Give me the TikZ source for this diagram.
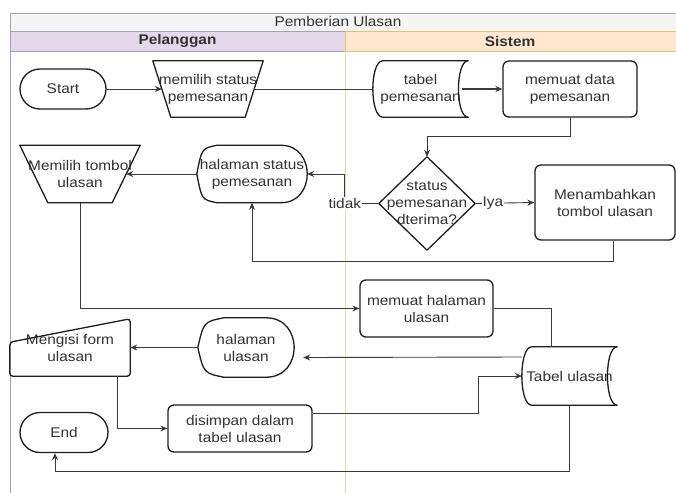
\documentclass[tikz,border=0pt]{standalone}
\usepackage{fontspec}
\setmainfont{Liberation Sans}[FakeStretch=1.1]
\usetikzlibrary{arrows.meta,shapes.misc}
\definecolor{ink}{HTML}{1E1E1E}
\definecolor{txtc}{HTML}{333333}
\definecolor{wire}{HTML}{3A3A3A}
\definecolor{titlefill}{HTML}{F5F5F5}
\definecolor{titleline}{HTML}{A8A8A8}
\definecolor{pelfill}{HTML}{E4D9EA}
\definecolor{pelline}{HTML}{AE9CBE}
\definecolor{sisfill}{HTML}{FFE8D2}
\definecolor{sisline}{HTML}{DCC276}
\begin{document}
\begin{tikzpicture}[x=1pt,y=-1pt,
  every node/.style={inner sep=0pt, align=center, text=txtc, font=\fontsize{14}{17}\selectfont},
  outline/.style={draw=ink, line width=1.3pt, line join=round},
  proc/.style={outline, rounded corners=6pt},
  term/.style={outline, rounded rectangle},
  conn/.style={draw=wire, line width=0.9pt},
  arr/.style={conn, -{Stealth[length=7pt,width=6pt]}},
  lbl/.style={fill=white, inner sep=1pt},
  sz/.style 2 args={minimum width=#1pt, minimum height=#2pt},
  head/.style={font=\fontsize{14}{17}\selectfont\bfseries}
]
\useasboundingbox (0,0) rectangle (676,492);
\clip (0,0) rectangle (676,492);
\fill[white] (0,0) rectangle (676,492);

% pool and lanes
\draw[draw=titleline, fill=titlefill] (10,13) rectangle (700,31);
\draw[draw=pelline, fill=pelfill] (10,31) rectangle (345,51);
\draw[draw=sisline, fill=sisfill] (345,31) rectangle (700,51);
\draw[pelline, line width=1pt] (10,51) -- (10,500);
\draw[sisline!60, line width=1pt] (345,51) -- (345,500);
\node (title) at (338,21.5) {Pemberian Ulasan};
\node[head] (pel) at (177.5,41) {Pelanggan};
\node[head] (sis) at (510,41) {Sistem};

% steps
\node[term, sz={86}{40}] (start) at (63,89) {Start};
\node[sz={110}{56}] (mem) at (208,89) {memilih status\\pemesanan};
\node[sz={95}{56}] (tp) at (420.5,89) {tabel\\pemesanan};
\node[proc, sz={134}{56}] (md) at (570,89) {memuat data\\pemesanan};
\node[sz={96}{93}] (dia) at (427,203.5) {status\\pemesanan\\dterima?};
\node[proc, sz={140}{75}] (menamb) at (605,202.5) {Menambahkan\\tombol ulasan};
\node[sz={110}{57}] (hsp) at (252,174) {halaman status\\pemesanan};
\node[sz={120}{57}] (mt) at (80,174) {Memilih tombol\\ulasan};
\node[proc, sz={133}{57}] (mhu) at (426.5,308.5) {memuat halaman\\ulasan};
\node[sz={95}{58}] (tu) at (569.5,376) {Tabel ulasan};
\node[sz={96}{59}] (hu) at (246,347.5) {halaman\\ulasan};
\node[sz={120}{57}] (mi) at (70,347.5) {Mengisi form\\ulasan};
\node[proc, sz={144}{47}] (ds) at (240,428.5) {disimpan dalam\\tabel ulasan};
\node[term, sz={88}{40}] (end) at (64,432.5) {End};

% manual operations
\draw[outline] (mem.north west) -- (mem.north east) -- ([xshift=-18pt]mem.south east) -- ([xshift=18pt]mem.south west) -- cycle;
\draw[outline] (mt.north west) -- (mt.north east) -- ([xshift=-28pt]mt.south east) -- ([xshift=28pt]mt.south west) -- cycle;

% stored data
\draw[outline] ([xshift=10pt]tp.north west) -- (tp.north east)
  .. controls ([xshift=-13pt]tp.north east) and ([xshift=-13pt]tp.south east) .. (tp.south east)
  -- ([xshift=10pt]tp.south west)
  .. controls ([xshift=-3.3pt]tp.south west) and ([xshift=-3.3pt]tp.north west) .. ([xshift=10pt]tp.north west) -- cycle;
\draw[outline] ([xshift=10pt]tu.north west) -- (tu.north east)
  .. controls ([xshift=-13pt]tu.north east) and ([xshift=-13pt]tu.south east) .. (tu.south east)
  -- ([xshift=10pt]tu.south west)
  .. controls ([xshift=-3.3pt]tu.south west) and ([xshift=-3.3pt]tu.north west) .. ([xshift=10pt]tu.north west) -- cycle;

% displays
\draw[outline] (hsp.west) .. controls ([xshift=5pt,yshift=-3pt]hsp.north west) .. ([xshift=20pt]hsp.north west)
  -- ([xshift=-26pt]hsp.north east)
  .. controls ([xshift=8.7pt]hsp.north east) and ([xshift=8.7pt]hsp.south east) .. ([xshift=-26pt]hsp.south east)
  -- ([xshift=20pt]hsp.south west)
  .. controls ([xshift=5pt,yshift=3pt]hsp.south west) .. (hsp.west) -- cycle;
\draw[outline] (hu.west) .. controls ([xshift=6pt,yshift=-4pt]hu.north west) .. ([xshift=26pt]hu.north west)
  -- ([xshift=-28pt]hu.north east)
  .. controls ([xshift=9.3pt]hu.north east) and ([xshift=9.3pt]hu.south east) .. ([xshift=-28pt]hu.south east)
  -- ([xshift=26pt]hu.south west)
  .. controls ([xshift=6pt,yshift=4pt]hu.south west) .. (hu.west) -- cycle;

% decision
\draw[outline] (dia.north) -- (dia.east) -- (dia.south) -- (dia.west) -- cycle;

% manual input
\draw[outline, rounded corners=3pt] (mi.south west) -- ([yshift=34pt]mi.south west) -- (mi.north east) -- (mi.south east) -- cycle;

% flow
\draw[arr] (start.east) -- ([xshift=9pt]mem.west);
\draw[conn] ([xshift=-9pt]mem.east) -- (tp.west);
\draw[arr, line width=1.8pt] ([xshift=-6pt]tp.east) -- (md.west);
\draw[arr] (md.south) -- ++(0,19) -| (dia.north);
\draw[arr] (dia.east) -- node[lbl, pos=0.3] (ya) {Iya} (menamb.west);
\coordinate (tk) at ([xshift=-34pt]dia.west);
\draw[arr] (dia.west) -- (tk) |- (hsp.east);
\node[lbl] (tidak) at (tk) {tidak};
\draw[arr] ([xshift=8pt]menamb.south) -- ++(0,21) -| (hsp.south);
\draw[arr] (hsp.west) -- ([xshift=-14pt]mt.east);
\draw[arr] (mt.south) |- (mhu.west);
\draw[conn] (mhu.east) -| ([xshift=-18.5pt]tu.north);
\draw[arr] ([yshift=19pt]tu.west) -- ([xshift=9pt,yshift=-10pt]hu.east);
\draw[arr] (hu.west) -- (mi.east);
\draw[arr] ([xshift=47pt]mi.south) |- (ds.west);
\draw[arr] ([yshift=15.5pt]ds.east) -| ([xshift=-43pt]tu.west) -- (tu.west);
\draw[arr] (tu.south) -- ++(0,66) -| ([xshift=-9pt]end.south);
\end{tikzpicture}
\end{document}
